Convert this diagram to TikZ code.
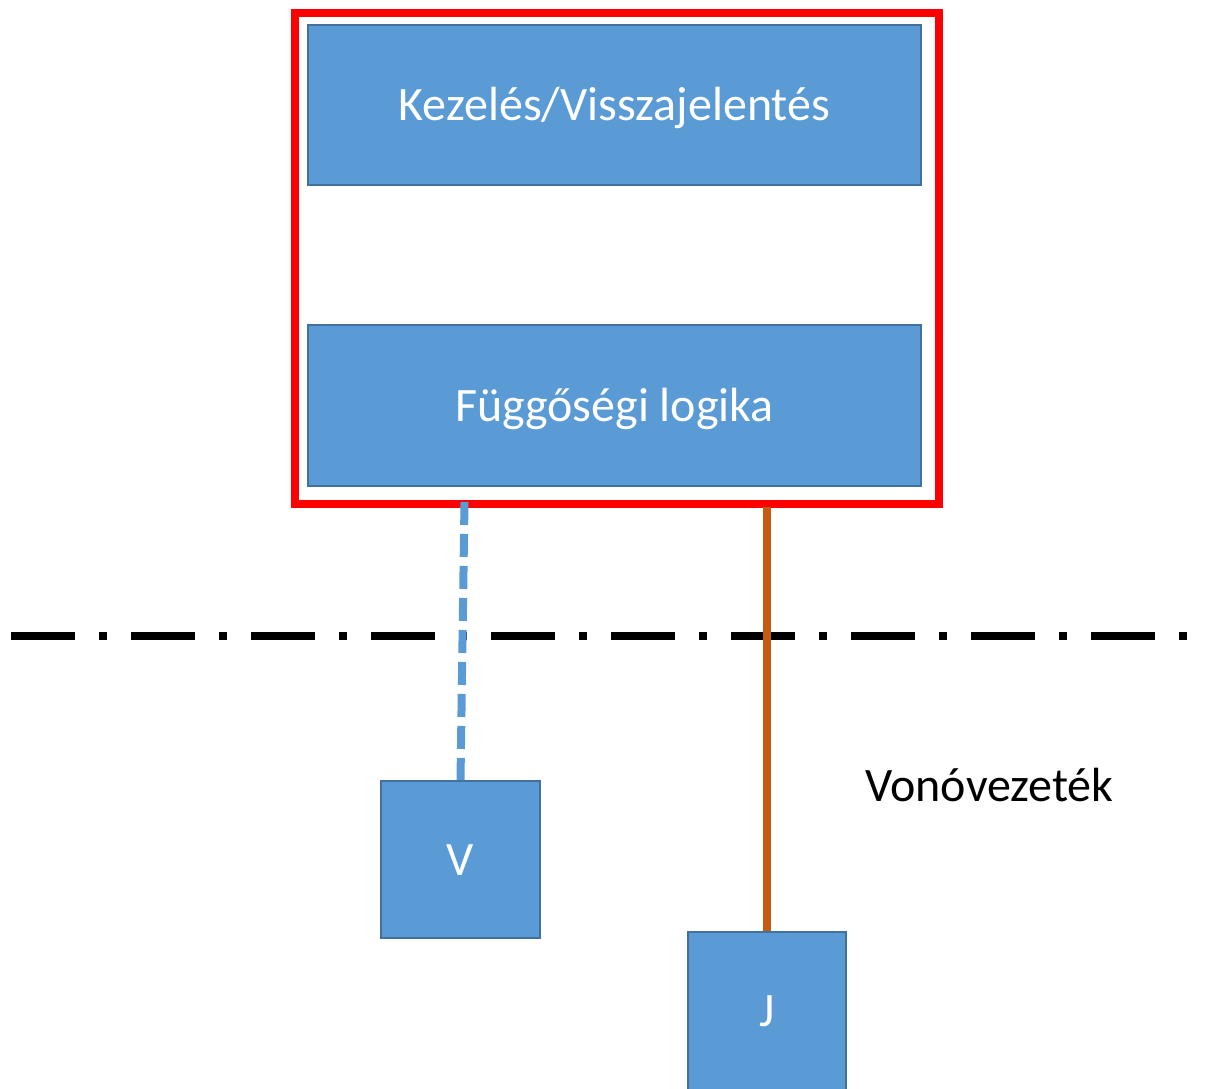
\documentclass[tikz,border=0pt]{standalone}
\usepackage{fontspec}
\setmainfont{Carlito}
\definecolor{boxfill}{HTML}{5B9BD5}
\definecolor{boxline}{HTML}{41719C}
\definecolor{wire}{HTML}{C55A11}
\begin{document}
\begin{tikzpicture}[x=1pt,y=-1pt,
  blockbox/.style={draw=boxline, fill=boxfill, line width=2pt, inner sep=0pt,
    text=white, font=\fontsize{48}{58}\selectfont, text height=31pt, text depth=0pt},
  frame/.style={draw=red, line width=8pt, inner sep=0pt},
  sepline/.style={line width=8pt, dash pattern=on 64pt off 24pt on 8pt off 24pt},
  dashwire/.style={draw=boxfill, line width=8pt, dash pattern=on 23pt off 9pt},
  solidwire/.style={draw=wire, line width=8pt}]
\useasboundingbox (0,0) rectangle (1211,1089);
\node[frame, minimum width=644pt, minimum height=490.5pt] (fr) at (617,258.25) {};
\node[blockbox, minimum width=613pt, minimum height=160pt] (kez) at (614.5,105) {Kezelés/Visszajelentés};
\node[blockbox, minimum width=613pt, minimum height=161pt] (fug) at (614.5,405.5) {Függőségi logika};
\node[blockbox, minimum width=159pt, minimum height=157pt] (V) at (460.5,859.5) {V};
\node[blockbox, minimum width=158pt, minimum height=158pt] (J) at (767,1011) {J};
\coordinate (sl) at (11.3,636);
\coordinate (sr) at (1187.3,636);
\draw[sepline] (sl) -- (sr);
\coordinate (vtop) at (464.5,502);
\coordinate (jtop) at (767,507);
\draw[dashwire] (vtop) -- (V.north);
\draw[solidwire] (jtop) -- (J.north);
\node[anchor=base west, inner sep=0pt, font=\fontsize{48}{58}\selectfont] (lab) at (865,801) {Vonóvezeték};
\end{tikzpicture}
\end{document}
